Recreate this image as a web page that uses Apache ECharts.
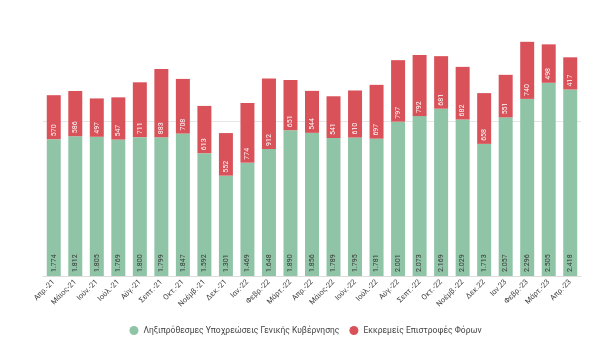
<!DOCTYPE html>
<html><head><meta charset="utf-8">
<script src="https://cdn.jsdelivr.net/npm/echarts@6/dist/echarts.min.js"></script>
<style>html,body{margin:0;padding:0;background:#fff}#c{width:611px;height:355px}</style>
</head><body><div id="c"></div>
<script>
const categories = ['Απρ.-21','Μάιος-21','Ιούν.-21','Ιούλ.-21','Αύγ.-21','Σεπτ.-21','Οκτ.-21','Νοέμβ.-21','Δεκ.-21','Ιαν.-22','Φεβρ.-22','Μάρτ.-22','Απρ.-22','Μάιος-22','Ιούν.-22','Ιούλ.-22','Αύγ.-22','Σεπτ.-22','Οκτ.-22','Νοέμβ.-22','Δεκ.22','Ιαν.23','Φεβρ.-23','Μάρτ.-23','Απρ.-23'];
const arrears = [1774,1812,1805,1769,1800,1799,1847,1592,1301,1469,1648,1890,1856,1789,1795,1781,2001,2073,2169,2029,1713,2057,2296,2505,2418];
const refunds = [570,586,497,547,711,883,708,613,552,774,912,651,544,541,610,697,797,792,681,682,658,551,740,498,417];
const seriesNames = ['Ληξιπρόθεσμες Υποχρεώσεις Γενικής Κυβέρνησης','Εκκρεμείς Επιστροφές Φόρων'];
const gridValues = [2000];

const fmt = v => { const s = String(v); return s.length > 3 ? s.slice(0, s.length-3) + '.' + s.slice(-3) : s; };
const chart = echarts.init(document.getElementById('c'), null, {renderer:'canvas'});
chart.setOption({
  animation:false,
  textStyle:{fontFamily:'Roboto'},
  grid:{left:43, right:30, top:0, bottom:79, containLabel:false},
  legend:{bottom:15, left:'center', icon:'circle', itemWidth:9, itemHeight:9, itemGap:10,
    textStyle:{fontSize:8.5, color:'#444'}, data:seriesNames},
  xAxis:{type:'category', data:categories,
    axisLine:{lineStyle:{color:'#ddd'}}, axisTick:{show:false},
    axisLabel:{rotate:45, fontSize:7.5, color:'#444', interval:0, margin:5}},
  yAxis:{type:'value', min:0, max:3578,
    axisLabel:{show:false}, axisLine:{show:false}, axisTick:{show:false},
    splitLine:{show:false}},
  series:[
    {name:seriesNames[0], type:'bar', stack:'a', data:arrears, barCategoryGap:'35%',
     itemStyle:{color:'#8fc4a6'}, z:2,
     markLine:{silent:true, symbol:'none', label:{show:false}, lineStyle:{color:'#e6e6e6', type:'solid', width:1},
       data:gridValues.map(v=>({yAxis:v})), z:1},
     label:{show:true, position:'insideBottom', rotate:90, align:'left', verticalAlign:'middle', distance:4,
       fontSize:7, color:'#333', formatter:p=>fmt(p.value)}},
    {name:seriesNames[1], type:'bar', stack:'a', data:refunds, z:2,
     itemStyle:{color:'#d9525a'},
     label:{show:true, position:'insideBottom', rotate:90, align:'left', verticalAlign:'middle', distance:3,
       fontSize:7, color:'#fff', formatter:p=>fmt(p.value)}}
  ]
});
</script></body></html>
